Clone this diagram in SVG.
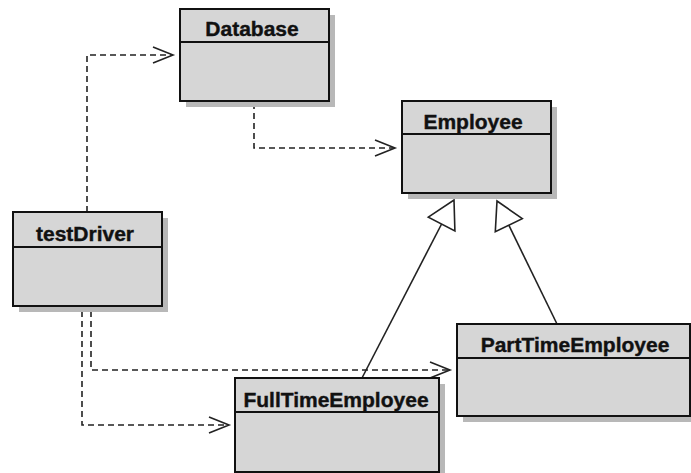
<svg xmlns="http://www.w3.org/2000/svg" width="691" height="473" viewBox="0 0 691 473">
  <style>
    .shadow { fill: #b8b8b8; }
    .box { fill: #d6d6d6; stroke: #111; stroke-width: 2; }
    .div { stroke: #111; stroke-width: 2; }
    .name { font-family: "Liberation Sans", Arial, sans-serif; font-weight: bold; font-size: 21px; fill: #111; stroke: #111; stroke-width: 0.4; text-anchor: middle; }
    .dep { fill: none; stroke: #222; stroke-width: 1.6; stroke-dasharray: 6 4; }
    .head { fill: none; stroke: #222; stroke-width: 1.6; }
    .gen { fill: none; stroke: #222; stroke-width: 1.6; }
    .tri { fill: #fff; stroke: #222; stroke-width: 1.6; stroke-linejoin: miter; }
  </style>
  <rect width="691" height="473" fill="#fff"/>

  <g id="connectors">
    <!-- testDriver to Database -->
    <polyline class="dep" points="87,212 87,55 172,55"/>
    <polyline class="head" points="153,47 173,55 153,63"/>
    <!-- Database to Employee -->
    <polyline class="dep" points="254,103 254,148 394,148"/>
    <polyline class="head" points="375,140 395,148 375,156"/>
    <!-- testDriver to PartTimeEmployee -->
    <polyline class="dep" points="91,311 91,370 449,370"/>
    <polyline class="head" points="430,362 450,370 430,378"/>
    <!-- testDriver to FullTimeEmployee -->
    <polyline class="dep" points="82,311 82,425 228,425"/>
    <polyline class="head" points="209,417 229,425 209,433"/>
    <!-- FullTimeEmployee generalizes Employee -->
    <line class="gen" x1="362" y1="378" x2="441.6" y2="224"/>
    <polygon class="tri" points="454,200 454.9,230.9 428.3,217.1"/>
    <!-- PartTimeEmployee generalizes Employee -->
    <line class="gen" x1="557" y1="324" x2="508.8" y2="225.2"/>
    <polygon class="tri" points="497,201 522.3,218.6 495.3,231.8"/>
  </g>

  <g id="Database">
    <rect class="shadow" x="186" y="15" width="149" height="92"/>
    <rect class="box" x="180" y="9" width="149" height="92"/>
    <line class="div" x1="180" y1="42" x2="329" y2="42"/>
    <text class="name" x="252" y="36">Database</text>
  </g>

  <g id="Employee">
    <rect class="shadow" x="408" y="107" width="149" height="92"/>
    <rect class="box" x="402" y="101" width="149" height="92"/>
    <line class="div" x1="402" y1="134" x2="551" y2="134"/>
    <text class="name" x="473" y="129">Employee</text>
  </g>

  <g id="testDriver">
    <rect class="shadow" x="19" y="218" width="149" height="94"/>
    <rect class="box" x="13" y="212" width="149" height="94"/>
    <line class="div" x1="13" y1="247" x2="162" y2="247"/>
    <text class="name" x="85" y="241">testDriver</text>
  </g>

  <g id="PartTimeEmployee">
    <rect class="shadow" x="463" y="330" width="233" height="92"/>
    <rect class="box" x="457" y="324" width="233" height="92"/>
    <line class="div" x1="457" y1="358" x2="690" y2="358"/>
    <text class="name" x="575" y="352">PartTimeEmployee</text>
  </g>

  <g id="FullTimeEmployee">
    <rect class="shadow" x="241" y="384" width="204" height="94"/>
    <rect class="box" x="235" y="378" width="204" height="94"/>
    <line class="div" x1="235" y1="412" x2="439" y2="412"/>
    <text class="name" x="336" y="407">FullTimeEmployee</text>
  </g>
</svg>
